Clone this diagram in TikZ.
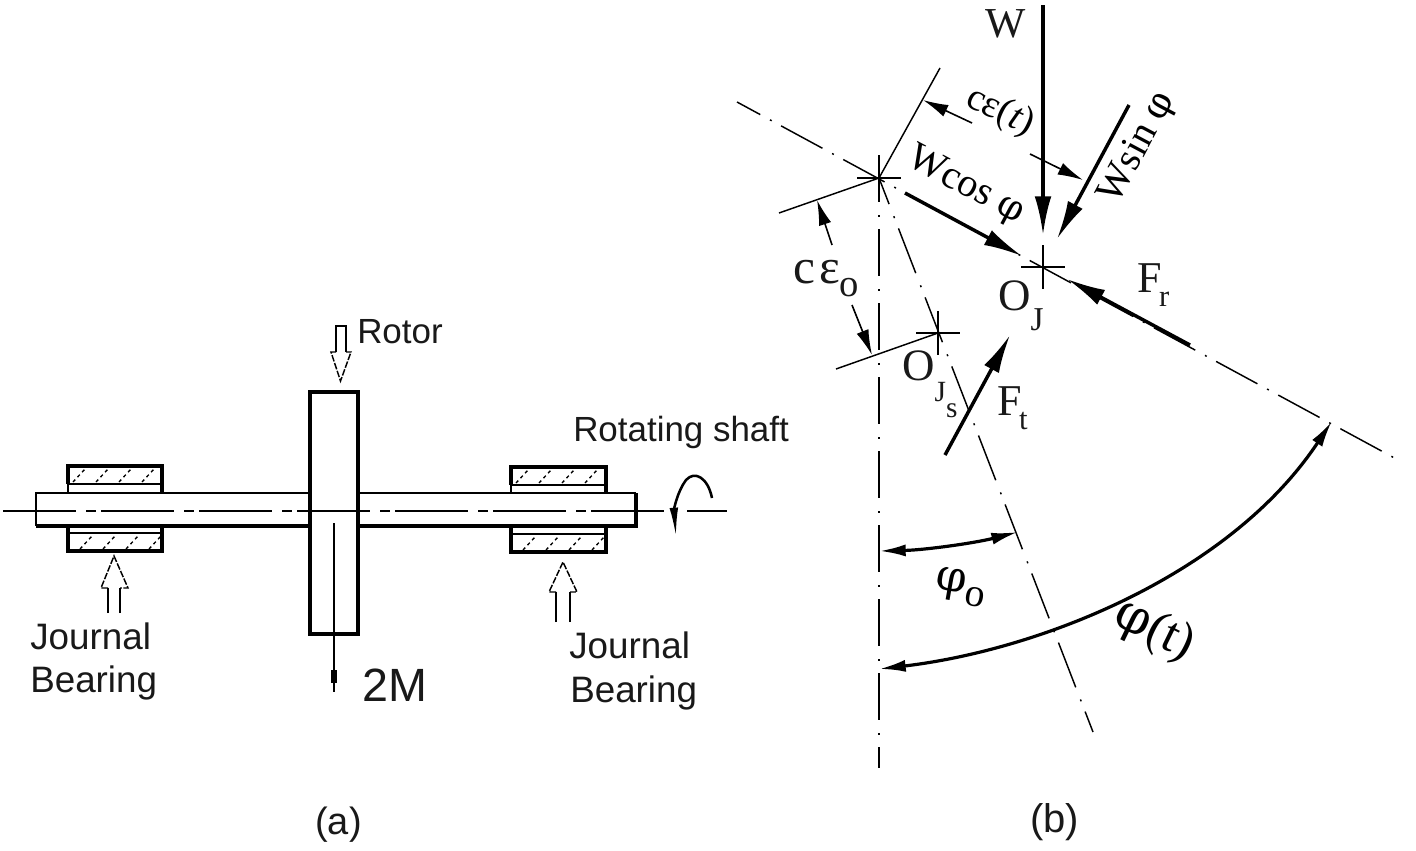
\documentclass[tikz,border=0pt]{standalone}
\usepackage{fontspec}
\setmainfont{Liberation Serif}
\newfontfamily\arialf{Liberation Sans}
\newfontfamily\phif{DejaVu Serif}
\usetikzlibrary{arrows.meta}
\newcommand{\fsz}[1]{\fontsize{#1}{#1}\selectfont}
\newcommand{\subdrop}[3]{\raisebox{-#1pt}{\fsz{#2}#3}}
\newcommand{\phichar}{{\phif φ}}
\tikzset{
  x=.75pt,y=-.75pt,
  thinln/.style={line width=1.1pt,black},
  heavy/.style={line width=2.3pt,black},
  medium/.style={line width=1.8pt,black},
  centreA/.style={thinln,dash pattern=on 54.75pt off 7.5pt on 7.5pt off 3.75pt},
  centreV/.style={line width=1.4pt,dash pattern=on 35.25pt off 9.75pt on 1.5pt off 9pt},
  centreB/.style={thinln,dash pattern=on 35.25pt off 8.25pt on 1.5pt off 8pt,dash phase=15.4pt},
  centreC/.style={thinln,dash pattern=on 36pt off 9.75pt on 1.5pt off 8.25pt,dash phase=15pt},
  force/.style={line width=2.6pt,-{Latex[length=29pt,width=12.5pt]}},
  dimtip/.style={line width=1.2pt,-{Latex[length=19pt,width=9.5pt]}},
  angarrow/.style={line width=2.4pt,{Latex[length=20pt,width=9pt]}-{Latex[length=20pt,width=9pt]}},
  hollow/.style={line width=1.1pt,black},
  hollowhead/.style={line width=1.1pt,black,dash pattern=on 5pt off 1.2pt},
  hatchln/.style={line width=1pt,dash pattern=on 2.5pt off 2.5pt},
  sanslbl/.style={inner sep=0pt,anchor=base west,font=\arialf\fsz{26.2},text=black!90},
  jbl/.style={sanslbl,font=\arialf\fsz{27.6}},
  seriflbl/.style={inner sep=0pt,anchor=base west,text=black!90},
}
\begin{document}
\begin{tikzpicture}
\useasboundingbox (0,0) rectangle (1416,850);
\fill[white] (0,0) rectangle (1416,850);

% ---------- (a) ----------
% bearings
\foreach \xa/\xb/\dy in {68/162/0,511/606/1}{
  \draw[heavy] (\xa,{484+\dy}) -- (\xa,{466+\dy}) -- (\xb,{466+\dy}) -- (\xb,{493});
  \draw[medium] (\xa,{484+\dy}) -- (\xb,{484+\dy});
  \draw[medium] (\xa,493) -- (\xa,484);
  \draw[heavy] (\xa,526) -- (\xa,{551+\dy}) -- (\xb,{551+\dy}) -- (\xb,526);
  \draw[medium] (\xa,{533+\dy}) -- (\xb,{533+\dy});
  \foreach \i in {0,1,2,3}{
    \draw[hatchln] ({\xa+5+23*\i},{482+\dy}) -- ({\xa+17+23*\i},{469+\dy});
    \draw[hatchln] ({\xa+12+23*\i},{549+\dy}) -- ({\xa+24+23*\i},{536+\dy});
  }
}
% shaft
\draw[medium] (310,493) -- (36,493) -- (36,526);
\draw[heavy] (36,526) -- (310,526);
\draw[medium] (358,493) -- (636,493);
\draw[heavy] (636,493) -- (636,526) -- (358,526);
% rotor
\draw[heavy] (310,392) rectangle (358,634);
% centre line
\coordinate (shaftL) at (3,511);
\coordinate (shaftR) at (665,511);
\coordinate (tailA) at (687,511);
\coordinate (tailB) at (727,511);
\draw[centreA] (shaftL) -- (shaftR);
\draw[thinln] (tailA) -- (tailB);
% 2M arrow
\coordinate (massA) at (334,523);
\coordinate (massB) at (334,692);
\draw[line width=1.5pt] (massA) -- (massB);
\fill (331,670) rectangle (337,683);
% rotation arrow
\draw[line width=1.9pt,-{Latex[length=22pt,width=6.5pt]}] (712,498) .. controls (708,478) and (695,470) .. (686,480) .. controls (677,492) and (674,510) .. (676,537);
% hollow arrows
\draw[hollow] (336,352) -- (336,326) -- (346,326) -- (346,352);
\draw[hollowhead] (336,352) -- (331,352) -- (340.5,381) -- (351,352) -- (346,352);
\draw[hollow] (108,613) -- (108,588);
\draw[hollow] (120,613) -- (120,588);
\draw[hollowhead] (108,588) -- (101,588) -- (114,556) -- (128,588) -- (120,588);
\draw[hollow] (556,622) -- (556,592);
\draw[hollow] (570,622) -- (570,592);
\draw[hollowhead] (556,592) -- (549,592) -- (563,562) -- (577,592) -- (570,592);
% labels
\node[sanslbl] (rotor) at (357,343) {Rotor};
\node[sanslbl] (shaft) at (573,441) {Rotating shaft};
\node[jbl] (jb1a) at (30,649) {Journal};
\node[jbl] (jb1b) at (30,692) {Bearing};
\node[jbl] (jb2a) at (569,658) {Journal};
\node[jbl] (jb2b) at (570,702) {Bearing};
\node[sanslbl,font=\arialf\fsz{35}] (twom) at (362,701) {2M};
\node[sanslbl,font=\arialf\fsz{28.5}] (capa) at (315,834) {(a)};
\node[sanslbl,font=\arialf\fsz{30}] (capb) at (1030,832) {(b)};

% ---------- (b) ----------
\coordinate (O) at (879,178);
\coordinate (OJ) at (1043,267);
\coordinate (OS) at (938,333);
% centre lines
\coordinate (vTop) at (879,155);
\coordinate (vBot) at (879,768);
\coordinate (aTop) at (737,102);
\coordinate (aEnd) at (1400,461);
\coordinate (bEnd) at (1093,732);
\draw[centreV] (vTop) -- (vBot);
\draw[centreB] (aTop) -- (aEnd);
\draw[centreC] (O) -- (bEnd);
% cross hairs
\foreach \c in {O,OJ,OS}{
  \draw[line width=1.3pt] ([xshift=-16.5pt]\c) -- ([xshift=16.5pt]\c);
  \draw[line width=1.3pt] ([yshift=16.5pt]\c) -- ([yshift=-16.5pt]\c);
}
% extension lines
\coordinate (e1) at (940,68);
\coordinate (e2) at (779,213);
\coordinate (e3) at (836,369);
\draw[thinln] (O) -- (e1);
\draw[thinln] (O) -- (e2);
\draw[thinln] (OS) -- (e3);
% dimension arrows
\coordinate (d1s) at (972,123); \coordinate (d1t) at (923,100);
\coordinate (d2s) at (1030,154); \coordinate (d2t) at (1083,180);
\coordinate (d3s) at (832,245); \coordinate (d3t) at (817,200);
\coordinate (d4s) at (852,305); \coordinate (d4t) at (872,355);
\draw[dimtip] (d1s) -- (d1t);
\draw[dimtip] (d2s) -- (d2t);
\draw[dimtip] (d3s) -- (d3t);
\draw[dimtip] (d4s) -- (d4t);
% forces
\coordinate (fW) at (1043,5); \coordinate (fWt) at (1043,235);
\coordinate (fS) at (1129,105); \coordinate (fSt) at (1057,239);
\coordinate (fC) at (905,193); \coordinate (fCt) at (1022,256);
\coordinate (fR) at (1190,345); \coordinate (fRt) at (1067,279);
\coordinate (fT) at (945,455); \coordinate (fTt) at (1010,335);
\draw[force] (fW) -- (fWt);
\draw[force] (fS) -- (fSt);
\draw[force] (fC) -- (fCt);
\draw[force] (fR) -- (fRt);
\draw[force] (fT) -- (fTt);
% angle arcs
\draw[angarrow] (879,551) .. controls (925,550) and (975,543) .. (1018,532);
\draw[angarrow] (879,669) .. controls (1040,650) and (1230,575) .. (1332,421);
% labels
\node[seriflbl,font=\fsz{32}] (lW) at (985,37) {W};
\node[inner sep=0pt,rotate=-25,font=\fsz{29}] (lce) at (1000,112) {cε(\textit{t})};
\node[inner sep=0pt,rotate=-28,font=\fsz{30}] (lwc) at (966,186) {Wcos \fsz{28}\phichar};
\node[inner sep=0pt,rotate=62,font=\fsz{30}] (lws) at (1138,148) {Wsin \fsz{28}\phichar};
\node[seriflbl,font=\fsz{37}] (lce0) at (793,283) {c\kern3ptε\subdrop{10}{29}{o}};
\node[seriflbl,font=\fsz{33.7}] (lOJ) at (998,310) {O\subdrop{15}{25}{J}};
\node[seriflbl,font=\fsz{33.7}] (lOS) at (902,380) {O\subdrop{16}{22}{J}\subdrop{28}{22}{s}};
\node[seriflbl,font=\fsz{33}] (lFr) at (1137,292) {F\kern-2pt\subdrop{11}{23}{r}};
\node[seriflbl,font=\fsz{33}] (lFt) at (997,415) {F\kern-2pt\subdrop{11}{23}{t}};
\node[inner sep=0pt,rotate=-10,font=\fsz{33}] (lph0) at (961,587) {\phichar\subdrop{8}{30}{o}};
\node[inner sep=0pt,rotate=-26,font=\fsz{38}] (lpht) at (1154,631) {\phichar(t)};
\end{tikzpicture}
\end{document}
